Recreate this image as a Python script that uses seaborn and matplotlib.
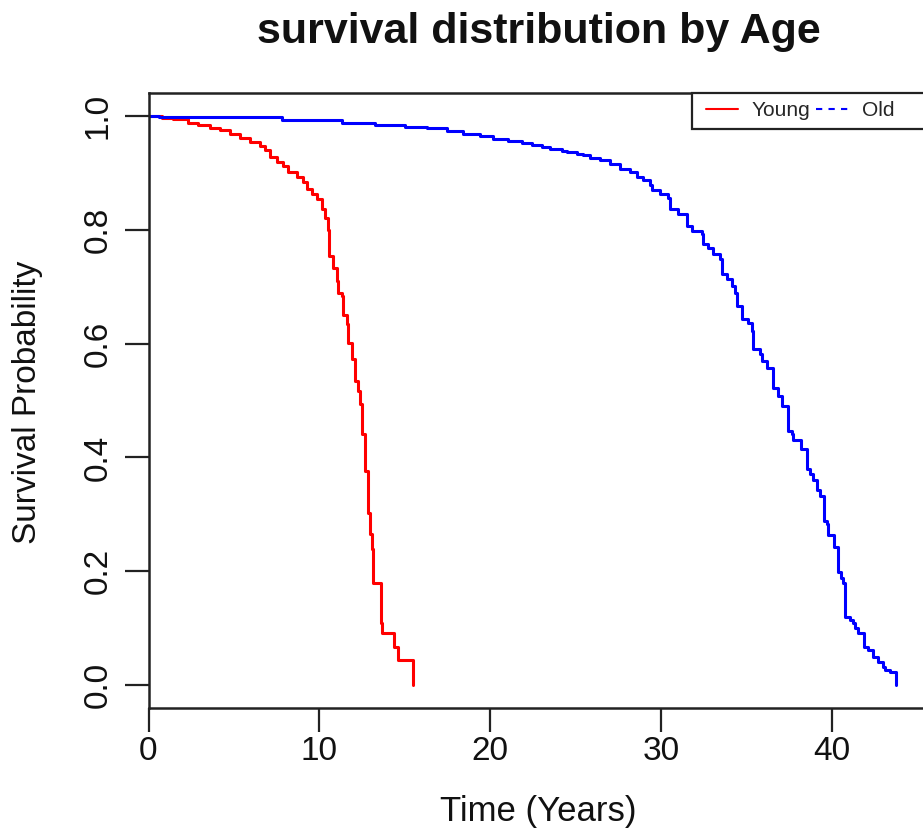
import numpy as np
import pandas as pd
import matplotlib
matplotlib.use('Agg')
import matplotlib.pyplot as plt
from matplotlib.lines import Line2D
from matplotlib.patches import Rectangle
import seaborn as sns

# Kaplan-Meier style step curves
young_time = [0.0, 0.79, 1.43, 2.31, 2.90, 3.60, 4.18, 4.77, 5.35, 5.94, 6.52, 6.82,
              7.11, 7.52, 7.87, 8.16, 8.69, 9.04, 9.27, 9.57, 9.86, 10.15, 10.33,
              10.50, 10.56, 10.80, 11.03, 11.09, 11.32, 11.38, 11.62, 11.67, 11.91,
              12.08, 12.26, 12.37, 12.49, 12.67, 12.84, 12.96, 13.08, 13.13, 13.60,
              13.66, 14.37, 14.60, 15.48]
young_surv = [1.0, 0.996, 0.995, 0.988, 0.984, 0.979, 0.975, 0.968, 0.961, 0.954, 0.947,
              0.940, 0.928, 0.919, 0.911, 0.902, 0.893, 0.884, 0.872, 0.862, 0.853,
              0.837, 0.820, 0.800, 0.753, 0.732, 0.709, 0.688, 0.683, 0.651, 0.634,
              0.601, 0.573, 0.534, 0.517, 0.494, 0.441, 0.377, 0.303, 0.266, 0.240,
              0.179, 0.109, 0.091, 0.067, 0.044, 0.0]

old_time = [0.0, 0.6, 7.81, 11.32, 13.25, 15.01, 16.30, 17.47, 18.40, 19.40, 20.16,
            21.04, 21.85, 22.44, 23.03, 23.50, 24.19, 24.49, 25.07, 25.42, 25.83,
            26.42, 27.00, 27.59, 28.17, 28.58, 28.93, 29.34, 29.46, 29.93, 30.40,
            30.51, 30.98, 31.51, 31.81, 32.39, 32.44, 32.74, 33.03, 33.44, 33.56,
            33.85, 34.14, 34.32, 34.43, 34.73, 35.08, 35.31, 35.37, 35.78, 35.90,
            36.19, 36.53, 36.83, 37.07, 37.42, 37.65, 37.71, 38.18, 38.53, 38.71,
            38.88, 39.11, 39.29, 39.52, 39.70, 39.76, 40.11, 40.34, 40.52, 40.64,
            40.75, 41.05, 41.22, 41.34, 41.52, 41.87, 42.10, 42.39, 42.69, 42.98,
            43.09, 43.40, 43.74]
old_surv = [1.0, 0.998, 0.993, 0.988, 0.984, 0.981, 0.978, 0.974, 0.968, 0.965, 0.960,
            0.956, 0.953, 0.949, 0.946, 0.942, 0.939, 0.937, 0.933, 0.932, 0.926,
            0.923, 0.916, 0.907, 0.902, 0.893, 0.888, 0.879, 0.870, 0.863, 0.855,
            0.837, 0.828, 0.806, 0.797, 0.792, 0.774, 0.767, 0.757, 0.748, 0.723,
            0.713, 0.701, 0.688, 0.666, 0.644, 0.636, 0.622, 0.590, 0.581, 0.569,
            0.557, 0.522, 0.508, 0.490, 0.447, 0.441, 0.431, 0.415, 0.380, 0.371,
            0.361, 0.342, 0.333, 0.289, 0.284, 0.263, 0.242, 0.198, 0.189, 0.180,
            0.119, 0.114, 0.109, 0.100, 0.091, 0.067, 0.061, 0.049, 0.040, 0.032,
            0.026, 0.023, 0.0]

groups = ['Young', 'Old']
colors = {'Young': '#ff0000', 'Old': '#0000ff'}
x_ticks = [0, 10, 20, 30, 40]
y_ticks = [0.0, 0.2, 0.4, 0.6, 0.8, 1.0]

df = pd.concat([
    pd.DataFrame({'time': young_time, 'surv': young_surv, 'group': 'Young'}),
    pd.DataFrame({'time': old_time, 'surv': old_surv, 'group': 'Old'}),
], ignore_index=True)

sns.set_style('white')
plt.rcParams['font.family'] = ['Liberation Sans', 'DejaVu Sans']

W, H = 923, 834
fig = plt.figure(figsize=(W / 100, H / 100), dpi=100)
ax = fig.add_axes([148.5 / W, 1 - 708 / H, (934.6 - 148.5) / W, (708 - 93) / H])

sns.lineplot(data=df, x='time', y='surv', hue='group', hue_order=groups,
             palette=colors, estimator=None, sort=False, drawstyle='steps-post',
             linewidth=2.2, legend=False, ax=ax)

ax.set_xlim(0, 46)
ax.set_ylim(-0.04, 1.04)
ax.set_xticks(x_ticks)
ax.set_xticklabels([str(t) for t in x_ticks])
ax.set_yticks(y_ticks)
ax.set_yticklabels([f'{t:.1f}' for t in y_ticks], rotation=90, va='center')
ax.tick_params(axis='both', bottom=True, left=True, length=17, width=1.6,
               color='#222222', labelsize=24, labelcolor='#111111', direction='out')
ax.tick_params(axis='x', pad=3)
ax.tick_params(axis='y', pad=8)
ax.set_xlabel('')
ax.set_ylabel('')
for sp in ax.spines.values():
    sp.set_color('#222222')
    sp.set_linewidth(1.8)

fig.text(538.5 / W, 1 - 32 / H, 'survival distribution by Age', ha='center',
         va='center', fontsize=31, fontweight='bold', color='#111111')
fig.text(538 / W, 1 - 811 / H, 'Time (Years)', ha='center', va='center',
         fontsize=25, color='#111111')
fig.text(28 / W, 1 - 402 / H, 'Survival Probability', ha='center', va='center',
         rotation=90, fontsize=24, color='#111111')

# legend box runs off the right edge like the axes box does
box = Rectangle((692 / W, 1 - 129 / H), (960 - 692) / W, 36 / H,
                transform=fig.transFigure, facecolor='white', edgecolor='#222222',
                linewidth=1.6, zorder=4)
fig.add_artist(box)
handles = [Line2D([], [], color=colors['Young'], lw=1.5, ls='-'),
           Line2D([], [], color=colors['Old'], lw=1.5, ls=(0, (3, 3)))]
leg = fig.legend(handles, groups, loc='center left',
                 bbox_to_anchor=(706 / W, 1 - 111 / H), ncol=2, fontsize=15,
                 frameon=False, handlelength=1.55, handletextpad=0.65,
                 columnspacing=0.25, borderpad=0, borderaxespad=0)
leg.set_zorder(5)

fig.savefig('out.png', dpi=100)
